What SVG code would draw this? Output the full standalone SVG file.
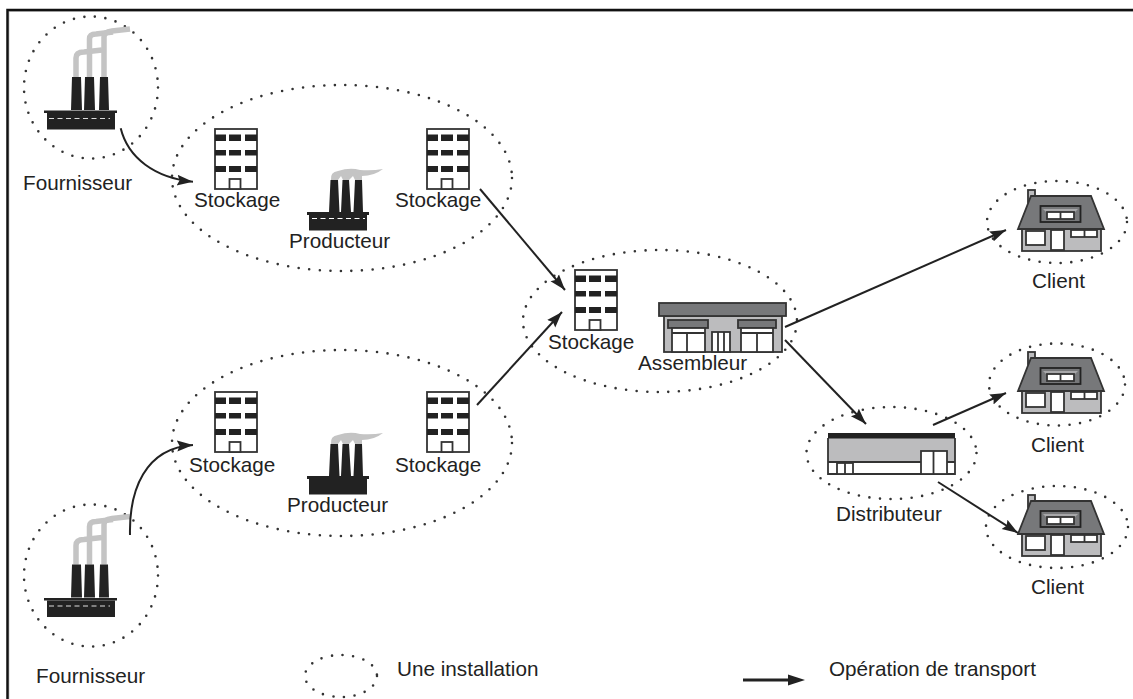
<svg xmlns="http://www.w3.org/2000/svg" width="1133" height="699" viewBox="0 0 1133 699">
<style>
text{font-family:"Liberation Sans",Arial,sans-serif;font-size:20.7px;fill:#222}
.inst{fill:none;stroke:#333;stroke-width:2.6;stroke-linecap:round;stroke-dasharray:0 10.6}
.arrow{fill:none;stroke:#222;stroke-width:2;marker-end:url(#head)}
.k{fill:#222}
.smoke{fill:none;stroke:#c4c4c4;stroke-width:5.5;stroke-linejoin:round}
.o{stroke:#333;stroke-width:1.8}
.w{fill:#fff}
.g1{fill:#bcbcbe}
.g2{fill:#77787a}
</style>
<defs>
<marker id="head" markerUnits="userSpaceOnUse" markerWidth="18" markerHeight="14" refX="16" refY="6" orient="auto">
<path d="M0,0.500 L16,6 L0,11.500 L2.500,6Z" fill="#222"/>
</marker>
<marker id="head2" markerUnits="userSpaceOnUse" markerWidth="18" markerHeight="14" refX="2" refY="6" orient="auto">
<path d="M0,0.500 L17,6 L0,11.500Z" fill="#222"/>
</marker>
<g id="bigfactory">
<path class="smoke" d="M76,77V58Q76,52 84,52L102,50"/>
<path class="smoke" d="M89.500,77V39Q89.500,34 96,34L113,32"/>
<path class="smoke" d="M104,77V37Q104,32 112,31L130,29"/>
<path class="k" d="M72,77H81L82,110H71ZM85,77H94L95,110H84ZM100,77H108L109,110H99Z"/>
<rect class="k" x="44" y="110.500" width="73" height="2.500"/>
<rect class="k" x="47" y="113" width="68" height="16.500"/>
<path d="M49,118.500H110" stroke="#ddd" stroke-width="1.200" stroke-dasharray="5 3.500"/>
</g>
<g id="smallfactory">
<path d="M331,180Q330,172 338,171Q350,167 360,170Q372,171 383,169Q374,176 362,176L362,180H355L353,176L349,180H343L341,176L338,180Z" fill="#c4c4c4"/>
<path class="k" d="M330.500,180H338L339.500,212H329ZM342.500,180H349L351,212H341ZM355,180H362L363,212H353.500Z"/>
<rect class="k" x="307" y="212" width="62" height="3"/>
<rect class="k" x="309" y="215" width="58" height="15.500"/>
</g>
<g id="building">
<rect x="215" y="129" width="42" height="60" class="w o"/>
<path class="k" d="M215,134.500h11v6.500h-11zM229,134.500h12v6.500h-12zM245,134.500h12v6.500h-12zM215,150h11v5.500h-11zM229,150h12v5.500h-12zM245,150h12v5.500h-12zM215,166h11v6h-11zM229,166h12v6h-12zM245,166h12v6h-12z"/>
<rect x="229.500" y="179" width="11" height="10" class="w o"/>
</g>
<g id="house">
<rect x="1028" y="352" width="7" height="12" class="g1 o"/>
<rect x="1022" y="391" width="79" height="22" class="g1 o"/>
<path d="M1018,391L1031,358H1091L1104,391Z" class="g2 o"/>
<rect x="1040.500" y="368" width="40" height="16" class="g2" stroke="#222" stroke-width="1.800"/>
<path d="M1043,371H1078L1075,374H1046Z" fill="#a8a8aa"/>
<rect x="1047" y="374" width="27" height="7" class="w o"/>
<path d="M1060.500,374V381" class="o"/>
<rect x="1026" y="393" width="19" height="14" class="w o"/>
<rect x="1051" y="392" width="13" height="20" class="w o"/>
<rect x="1071" y="392" width="26" height="7" class="w o"/>
<path d="M1084.500,392V399" class="o"/>
</g>
</defs>
<rect x="0" y="0" width="1133" height="699" fill="#fff"/>
<path d="M9,699V11.500H1133" fill="none" stroke="#ccc" stroke-width="1"/>
<path d="M7.500,699V10H1133" fill="none" stroke="#111" stroke-width="2.500"/>
<g id="fournisseur-1">
<ellipse class="inst" cx="91" cy="87.500" rx="67" ry="71"/>
<use href="#bigfactory"/>
<text x="23" y="190">Fournisseur</text>
</g>
<g id="fournisseur-2">
<ellipse class="inst" cx="91" cy="575.500" rx="67" ry="71"/>
<use href="#bigfactory" y="487.500"/>
<text x="36" y="683">Fournisseur</text>
</g>
<g id="producteur-1">
<ellipse class="inst" cx="342" cy="178" rx="170" ry="93"/>
<use href="#building"/>
<use href="#building" x="212"/>
<use href="#smallfactory"/>
<path d="M312,218.500H365" stroke="#fff" stroke-width="1.200" stroke-dasharray="5 3.500"/>
<text x="194" y="207">Stockage</text>
<text x="395" y="207">Stockage</text>
<text x="289" y="248">Producteur</text>
</g>
<g id="producteur-2">
<ellipse class="inst" cx="342" cy="443" rx="170" ry="93"/>
<use href="#building" y="263"/>
<use href="#building" x="212" y="263"/>
<use href="#smallfactory" y="264"/>
<text x="189" y="472">Stockage</text>
<text x="395" y="472">Stockage</text>
<text x="287" y="512">Producteur</text>
</g>
<g id="assembleur">
<ellipse class="inst" cx="660" cy="321" rx="137" ry="71"/>
<use href="#building" x="360" y="141"/>
<rect x="664" y="316" width="118" height="36" class="g1 o"/>
<rect x="659" y="303" width="127" height="13" class="g2 o"/>
<rect x="668" y="320" width="40" height="8" class="g2 o"/>
<rect x="738" y="320" width="38" height="8" class="g2 o"/>
<rect x="672" y="328" width="33" height="24" class="w o"/>
<rect x="741" y="328" width="32" height="24" class="w o"/>
<path d="M672,333H705M687,333V352M741,333H773M757,333V352" class="o"/>
<rect x="712" y="332" width="18" height="20" class="w o"/>
<path d="M718,332V352M724,332V352" class="o"/>
<text x="548" y="349">Stockage</text>
<text x="638" y="370">Assembleur</text>
</g>
<g id="distributeur">
<ellipse class="inst" cx="891.500" cy="453" rx="85" ry="46"/>
<rect x="828" y="438" width="127" height="24" class="g1"/>
<rect x="828" y="433" width="127" height="5.500" class="k"/>
<path d="M828,462H955M828,438V474H955V438" fill="none" class="o"/>
<rect x="921" y="451" width="26" height="23" class="w o"/>
<path d="M933.500,451V474" class="o"/>
<rect x="837" y="463" width="16" height="11" class="w o"/>
<path d="M845,463V474" class="o"/>
<text x="836" y="521">Distributeur</text>
</g>
<g id="client-1">
<ellipse class="inst" cx="1057" cy="222" rx="70" ry="41"/>
<use href="#house" y="-162"/>
<text x="1032" y="288">Client</text>
</g>
<g id="client-2">
<ellipse class="inst" cx="1057" cy="384.500" rx="68" ry="41"/>
<use href="#house"/>
<text x="1031" y="452">Client</text>
</g>
<g id="client-3">
<ellipse class="inst" cx="1057" cy="527" rx="71" ry="41"/>
<use href="#house" y="143"/>
<text x="1031" y="594">Client</text>
</g>
<g id="connectors">
<path class="arrow" d="M120.700,128.300C128,158 155,178 193,181.700"/>
<path class="arrow" d="M130,535C129,490 145,448 193,445"/>
<path class="arrow" d="M480,189L565,290"/>
<path class="arrow" d="M477,405L562,312"/>
<path class="arrow" d="M785,327L1006,230"/>
<path class="arrow" d="M785,340L866,424"/>
<path class="arrow" d="M933,425L1006,393"/>
<path class="arrow" d="M938,482L1018,533"/>
</g>
<g id="legende">
<ellipse class="inst" cx="341" cy="676" rx="36" ry="21"/>
<text x="397" y="676">Une installation</text>
<path d="M743,680H790" fill="none" stroke="#222" stroke-width="3" marker-end="url(#head2)"/>
<text x="829" y="676">Opération de transport</text>
</g>
</svg>
